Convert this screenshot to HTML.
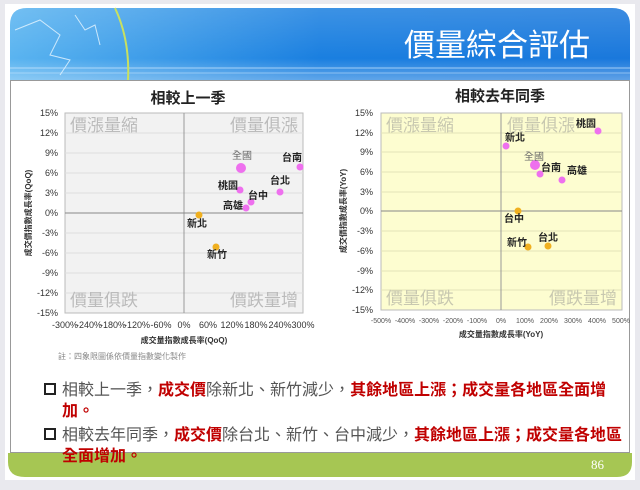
<!DOCTYPE html>
<html><head><meta charset="utf-8"><style>
body{margin:0;width:640px;height:485px;background:#e9e9ee;overflow:hidden;font-family:"Liberation Sans","Noto Sans CJK TC",sans-serif}
</style></head><body>
<svg width="640" height="485" xmlns="http://www.w3.org/2000/svg" font-family="Liberation Sans, Noto Sans CJK TC, sans-serif">
<defs>
<linearGradient id="hb" x1="0" y1="0" x2="1" y2="0"><stop offset="0" stop-color="#5ab4f0"/><stop offset="0.5" stop-color="#1a7fe0"/><stop offset="1" stop-color="#1a78dc"/></linearGradient>
<linearGradient id="hv" x1="0" y1="0" x2="0" y2="1"><stop offset="0" stop-color="#fff" stop-opacity="0.15"/><stop offset="0.7" stop-color="#fff" stop-opacity="0"/><stop offset="1" stop-color="#fff" stop-opacity="0.3"/></linearGradient>
</defs>
<rect x="5" y="4" width="630" height="476" fill="#fff"/>
<path d="M10 80 V25 Q10 8 27 8 H612 Q630 8 630 25 V80 Z" fill="url(#hb)"/>
<path d="M10 80 V25 Q10 8 27 8 H612 Q630 8 630 25 V80 Z" fill="url(#hv)"/>
<line x1="10" y1="68" x2="630" y2="68" stroke="#cfe9ff" stroke-width="1" opacity="0.7"/>
<line x1="10" y1="73" x2="630" y2="73" stroke="#cfe9ff" stroke-width="1" opacity="0.5"/>
<path d="M115 8 Q130 40 128 80" stroke="#c8e060" stroke-width="2" fill="none"/>
<path d="M15 30 L40 20 L60 35 L50 55 L70 60 L60 75 M75 15 L85 30 L95 25 L100 45" stroke="#e8f6ff" stroke-width="1" fill="none" opacity="0.8"/>
<text x="590" y="56" font-size="31" fill="#fff" text-anchor="end">價量綜合評估</text>
<rect x="10.5" y="80.5" width="619" height="372" fill="#fff" stroke="#999"/>
<path d="M8 453 H632 V462 Q632 477 617 477 H25 Q8 477 8 462 Z" fill="#a6c653"/>
<text x="604" y="469" font-size="13" fill="#fff" text-anchor="end" font-family="Liberation Serif, serif">86</text>

<!-- Left chart -->
<text x="188" y="103" font-size="15" text-anchor="middle" fill="#222" font-weight="bold">相較上一季</text>
<rect x="65" y="113" width="238" height="200" fill="#f2f2f2" stroke="#bbb"/>
<g stroke="#ddd" stroke-width="1">
<line x1="65" y1="133" x2="303" y2="133"/><line x1="65" y1="153" x2="303" y2="153"/><line x1="65" y1="173" x2="303" y2="173"/><line x1="65" y1="193" x2="303" y2="193"/><line x1="65" y1="233" x2="303" y2="233"/><line x1="65" y1="253" x2="303" y2="253"/><line x1="65" y1="273" x2="303" y2="273"/><line x1="65" y1="293" x2="303" y2="293"/>
</g>
<line x1="184" y1="113" x2="184" y2="313" stroke="#999"/>
<line x1="65" y1="213" x2="303" y2="213" stroke="#888"/>
<g font-size="17" fill="#bbb">
<text x="70" y="131">價漲量縮</text><text x="298" y="131" text-anchor="end">價量俱漲</text>
<text x="70" y="306">價量俱跌</text><text x="298" y="306" text-anchor="end">價跌量增</text>
</g>
<g font-size="9" fill="#333" text-anchor="end">
<text x="58" y="116">15%</text><text x="58" y="136">12%</text><text x="58" y="156">9%</text><text x="58" y="176">6%</text><text x="58" y="196">3%</text><text x="58" y="216">0%</text><text x="58" y="236">-3%</text><text x="58" y="256">-6%</text><text x="58" y="276">-9%</text><text x="58" y="296">-12%</text><text x="58" y="316">-15%</text>
</g>
<g font-size="9" fill="#333" text-anchor="middle">
<text x="65" y="328">-300%</text><text x="89" y="328">-240%</text><text x="113" y="328">-180%</text><text x="137" y="328">-120%</text><text x="161" y="328">-60%</text><text x="184" y="328">0%</text><text x="208" y="328">60%</text><text x="232" y="328">120%</text><text x="256" y="328">180%</text><text x="280" y="328">240%</text><text x="303" y="328">300%</text>
</g>
<text x="184" y="343" font-size="8" fill="#333" text-anchor="middle" font-weight="bold">成交量指數成長率(QoQ)</text>
<text transform="translate(31 213) rotate(-90)" font-size="8" fill="#333" text-anchor="middle" font-weight="bold">成交價指數成長率(QoQ)</text>
<text x="58" y="359" font-size="8" fill="#888">註：四象限圖係依價量指數變化製作</text>
<g fill="#ee70ee">
<circle cx="241" cy="168" r="5"/><circle cx="300" cy="167" r="3.5"/><circle cx="280" cy="192" r="3.5"/><circle cx="240" cy="190" r="3.5"/><circle cx="251" cy="202" r="3.5"/><circle cx="246" cy="208" r="3.5"/>
</g>
<g fill="#f0b020"><circle cx="199" cy="215" r="3.5"/><circle cx="216" cy="247" r="3.5"/></g>
<g font-size="10" fill="#222" font-weight="bold">
<text x="232" y="159" fill="#666" font-weight="normal">全國</text><text x="282" y="161">台南</text><text x="270" y="184">台北</text><text x="218" y="189">桃園</text><text x="248" y="199">台中</text><text x="223" y="209">高雄</text><text x="187" y="227">新北</text><text x="207" y="258">新竹</text>
</g>

<!-- Right chart -->
<text x="500" y="101" font-size="15" text-anchor="middle" fill="#222" font-weight="bold">相較去年同季</text>
<rect x="381" y="113" width="241" height="197" fill="#fdfdd0" stroke="#bbb"/>
<g stroke="#e2e2b8" stroke-width="1">
<line x1="381" y1="133" x2="622" y2="133"/><line x1="381" y1="152" x2="622" y2="152"/><line x1="381" y1="172" x2="622" y2="172"/><line x1="381" y1="192" x2="622" y2="192"/><line x1="381" y1="231" x2="622" y2="231"/><line x1="381" y1="251" x2="622" y2="251"/><line x1="381" y1="271" x2="622" y2="271"/><line x1="381" y1="290" x2="622" y2="290"/>
</g>
<line x1="501" y1="113" x2="501" y2="310" stroke="#999"/>
<line x1="381" y1="211" x2="622" y2="211" stroke="#888"/>
<g font-size="17" fill="#c8c8b0">
<text x="386" y="131">價漲量縮</text><text x="507" y="131">價量俱漲</text>
<text x="386" y="304">價量俱跌</text><text x="617" y="304" text-anchor="end">價跌量增</text>
</g>
<g font-size="9" fill="#333" text-anchor="end">
<text x="373" y="116">15%</text><text x="373" y="136">12%</text><text x="373" y="155">9%</text><text x="373" y="175">6%</text><text x="373" y="195">3%</text><text x="373" y="214">0%</text><text x="373" y="234">-3%</text><text x="373" y="254">-6%</text><text x="373" y="274">-9%</text><text x="373" y="293">-12%</text><text x="373" y="313">-15%</text>
</g>
<g font-size="7" fill="#555" text-anchor="middle">
<text x="381" y="323">-500%</text><text x="405" y="323">-400%</text><text x="429" y="323">-300%</text><text x="453" y="323">-200%</text><text x="477" y="323">-100%</text><text x="501" y="323">0%</text><text x="525" y="323">100%</text><text x="549" y="323">200%</text><text x="573" y="323">300%</text><text x="597" y="323">400%</text><text x="621" y="323">500%</text>
</g>
<text x="501" y="337" font-size="8" fill="#333" text-anchor="middle" font-weight="bold">成交量指數成長率(YoY)</text>
<text transform="translate(346 211) rotate(-90)" font-size="8" fill="#333" text-anchor="middle" font-weight="bold">成交價指數成長率(YoY)</text>
<g fill="#ee70ee">
<circle cx="535" cy="165" r="5"/><circle cx="598" cy="131" r="3.5"/><circle cx="506" cy="146" r="3.5"/><circle cx="540" cy="174" r="3.5"/><circle cx="562" cy="180" r="3.5"/>
</g>
<g fill="#f0b020"><circle cx="518" cy="211" r="3.5"/><circle cx="528" cy="247" r="3.5"/><circle cx="548" cy="246" r="3.5"/></g>
<g font-size="10" fill="#222" font-weight="bold">
<text x="576" y="127">桃園</text><text x="505" y="141">新北</text><text x="524" y="160" fill="#666" font-weight="normal">全國</text><text x="541" y="171">台南</text><text x="567" y="174">高雄</text><text x="504" y="222">台中</text><text x="507" y="246">新竹</text><text x="538" y="241">台北</text>
</g>

<!-- bullets -->
<g font-size="16">
<rect x="45" y="384" width="10" height="10" fill="none" stroke="#222" stroke-width="2"/>
<text x="62" y="395" fill="#555">相較上一季<tspan>，</tspan><tspan fill="#c00000" font-weight="bold">成交價</tspan>除新北、新竹減少，<tspan fill="#c00000" font-weight="bold">其餘地區上漲；成交量各地區全面增</tspan></text>
<text x="62" y="416" fill="#c00000" font-weight="bold">加。</text>
<rect x="45" y="429" width="10" height="10" fill="none" stroke="#222" stroke-width="2"/>
<text x="62" y="440" fill="#555">相較去年同季，<tspan fill="#c00000" font-weight="bold">成交價</tspan>除台北、新竹、台中減少，<tspan fill="#c00000" font-weight="bold">其餘地區上漲；成交量各地區</tspan></text>
<text x="62" y="461" fill="#c00000" font-weight="bold">全面增加。</text>
</g>
</svg>
</body></html>
